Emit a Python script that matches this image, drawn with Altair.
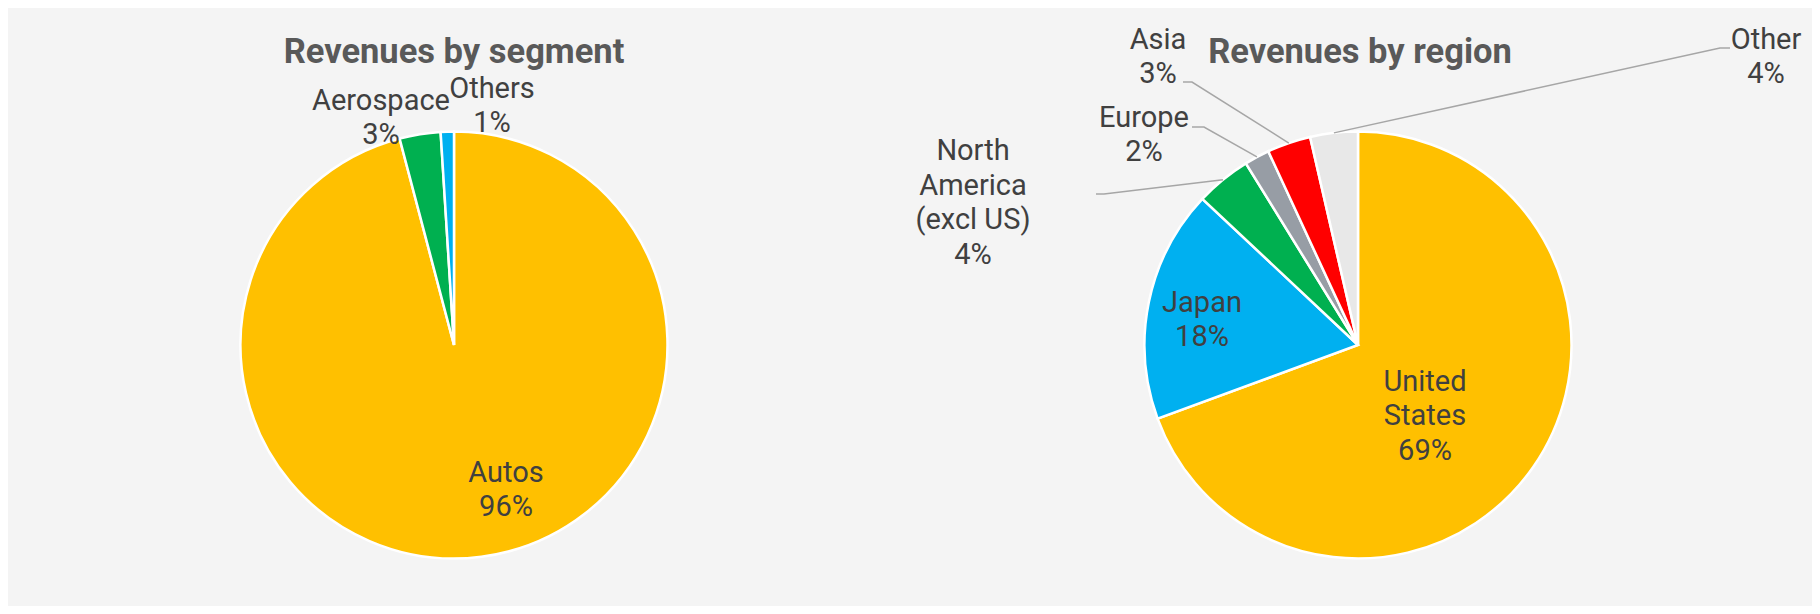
import math
import altair as alt
import pandas as pd

# ---------------- data ----------------
seg_names = ["Autos", "Aerospace", "Others"]
seg_values = [95.9, 3.1, 1.0]
seg_pct = ["96%", "3%", "1%"]
seg_colors = ["#FFC000", "#00B050", "#00B0F0"]

reg_names = ["United States", "Japan", "North America (excl US)", "Europe", "Asia", "Other"]
reg_lines = [["United", "States"], ["Japan"], ["North", "America", "(excl US)"], ["Europe"], ["Asia"], ["Other"]]
reg_values = [69.4, 17.6, 4.2, 1.9, 3.3, 3.6]
reg_pct = ["69%", "18%", "4%", "2%", "3%", "4%"]
reg_colors = ["#FFC000", "#00B0F0", "#00B050", "#979DA5", "#FF0000", "#E8E8E8"]

titles = ["Revenues by segment", "Revenues by region"]

# ---------------- layout ----------------
W, H = 1804, 598
CY = 337
CX = [446, 1350]
R = 213.5
LH = 34.5
TITLE_Y = 45
TITLE_X = [446, 1352]

seg_label_off = [(52, 145), (-73, -227), (38, -239)]
reg_label_off = [(67, 71), (-156, -25), (-385, -142), (-214, -210), (-200, -288), (408, -288)]
# leader lines: (label, elbow offset, end offset)
leaders = {
    "North America (excl US)": ((-254, -151), (-262, -151)),
    "Europe": ((-154, -218), (-166, -218)),
    "Asia": ((-166, -263), (-175, -263)),
    "Other": ((362, -297), (372, -297)),
}

FONT = "Roboto"
TXT = "#404040"


def pie_df(names, values):
    return pd.DataFrame({"name": names, "value": values, "idx": list(range(len(names)))})


def label_rows(cx, names, lines, pcts, offs):
    rows = []
    for name, ls, p, (dx, dy) in zip(names, lines, pcts, offs):
        all_lines = list(ls) + [p]
        n = len(all_lines)
        for i, t in enumerate(all_lines):
            rows.append({"name": name, "t": t, "x": cx + dx, "y": CY + dy + (i - (n - 1) / 2) * LH})
    return pd.DataFrame(rows)


def leader_rows(cx, names, values):
    rows = []
    total = sum(values)
    cum = 0.0
    for name, v in zip(names, values):
        mid = (cum + v / 2) / total * 2 * math.pi
        cum += v
        if name in leaders:
            (ex, ey), (fx, fy) = leaders[name]
            pts = [(cx + R * math.sin(mid), CY - R * math.cos(mid)), (cx + ex, CY + ey), (cx + fx, CY + fy)]
            for k, (x, y) in enumerate(pts):
                rows.append({"name": name, "k": k, "x": x, "y": y})
    return pd.DataFrame(rows)


def arc_layer(names, values, colors, cx):
    return alt.Chart(pie_df(names, values)).mark_arc(
        outerRadius=R, stroke="white", strokeWidth=2.5
    ).encode(
        theta=alt.Theta("value:Q", stack=True),
        color=alt.Color("name:N", scale=alt.Scale(domain=names, range=colors), legend=None),
        order=alt.Order("idx:Q"),
        x=alt.value(cx),
        y=alt.value(CY),
    )


def text_layer(df):
    return alt.Chart(df).mark_text(
        font=FONT, fontSize=29, color=TXT, baseline="middle", align="center"
    ).encode(
        x=alt.X("x:Q", scale=None, axis=None),
        y=alt.Y("y:Q", scale=None, axis=None),
        text="t:N",
    )


seg_arc = arc_layer(seg_names, seg_values, seg_colors, CX[0])
reg_arc = arc_layer(reg_names, reg_values, reg_colors, CX[1])

seg_text = text_layer(label_rows(CX[0], seg_names, [[n] for n in seg_names], seg_pct, seg_label_off))
reg_text = text_layer(label_rows(CX[1], reg_names, reg_lines, reg_pct, reg_label_off))

lead = alt.Chart(leader_rows(CX[1], reg_names, reg_values)).mark_line(
    color="#A6A6A6", strokeWidth=1.5
).encode(
    x=alt.X("x:Q", scale=None, axis=None),
    y=alt.Y("y:Q", scale=None, axis=None),
    detail="name:N",
    order="k:Q",
)

title_df = pd.DataFrame({"t": titles, "x": TITLE_X, "y": [TITLE_Y, TITLE_Y]})
title_layer = alt.Chart(title_df).mark_text(
    font=FONT, fontSize=34.5, fontWeight="bold", color="#595959", baseline="middle", align="center"
).encode(
    x=alt.X("x:Q", scale=None, axis=None),
    y=alt.Y("y:Q", scale=None, axis=None),
    text="t:N",
)

chart = alt.layer(
    seg_arc, reg_arc, lead, seg_text, reg_text, title_layer
).resolve_scale(
    theta="independent", color="independent"
).properties(
    width=W, height=H, padding=0, background="#F4F4F4"
).configure_view(stroke=None)

chart.save("out.html", embed_options={"renderer": "svg", "actions": False})
